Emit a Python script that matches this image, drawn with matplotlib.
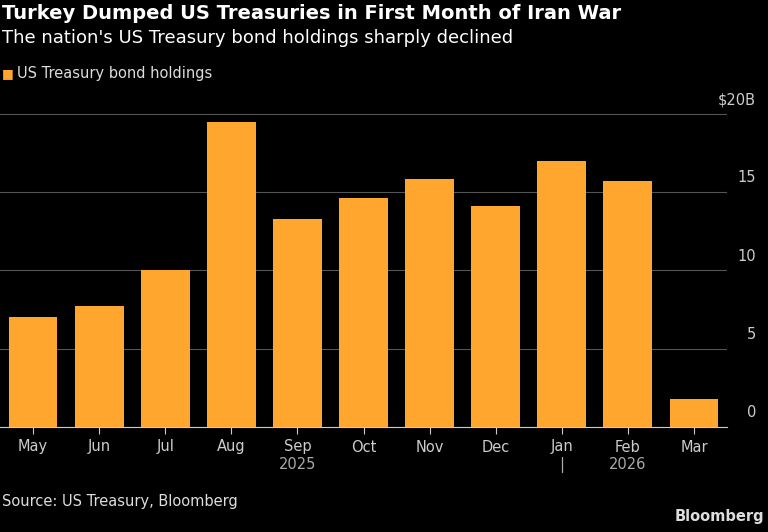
import matplotlib.pyplot as plt

months = ['May', 'Jun', 'Jul', 'Aug', 'Sep', 'Oct', 'Nov', 'Dec', 'Jan', 'Feb', 'Mar']
holdings = [7.0, 7.7, 10.0, 19.5, 13.3, 14.6, 15.8, 14.1, 17.0, 15.7, 1.8]
yticks = [0, 5, 10, 15, 20]
ylabels = ['0', '5', '10', '15', '$20B']

bg = 'black'
fig = plt.figure(figsize=(7.68, 5.32), dpi=100, facecolor=bg)
ax = fig.add_axes([0.0, (532 - 427) / 532, 727 / 768, (427 - 109) / 532], facecolor=bg)

x = range(len(months))
ax.bar(x, holdings, width=0.74, color='#FFA62F', zorder=3)
ax.set_xlim(-0.5, len(months) - 0.5)
ax.set_ylim(0, 20.3)
ax.set_yticks(yticks)
ax.set_yticklabels([])
ax.grid(axis='y', color='#555555', linewidth=0.8, zorder=0)
ax.tick_params(axis='y', length=0)
for v, lab in zip(yticks, ylabels):
    ax.text(1.0 + 29 / 727, v + 0.9, lab, transform=ax.get_yaxis_transform(),
            ha='right', va='center', color='#cccccc', fontsize=10.5)
ax.set_xticks(list(x))
ax.set_xticklabels(months)
ax.tick_params(axis='x', colors='#cccccc', labelsize=10.5, length=5, width=0.8, pad=4)
for s in ['top', 'right', 'left']:
    ax.spines[s].set_visible(False)
ax.spines['bottom'].set_color('#cccccc')

xt = ax.get_xaxis_transform()
ax.text(4, -0.095, '2025', transform=xt, ha='center', va='top', color='#aaaaaa', fontsize=10.5)
ax.text(9, -0.095, '2026', transform=xt, ha='center', va='top', color='#aaaaaa', fontsize=10.5)
ax.text(8, -0.095, '|', transform=xt, ha='center', va='top', color='#aaaaaa', fontsize=10.5)

fig.text(0.003, 0.992, 'Turkey Dumped US Treasuries in First Month of Iran War',
         color='white', fontsize=14, fontweight='bold', va='top')
fig.text(0.003, 0.945, "The nation's US Treasury bond holdings sharply declined",
         color='white', fontsize=13, va='top')
fig.text(0.003, 0.862, '\u25A0', color='#FFA62F', fontsize=9, va='center')
fig.text(0.022, 0.862, 'US Treasury bond holdings', color='#dddddd', fontsize=10.5, va='center')
fig.text(0.003, 0.058, 'Source: US Treasury, Bloomberg', color='#dddddd', fontsize=10.5, va='center')
fig.text(0.995, 0.015, 'Bloomberg', color='#dddddd', fontsize=10.5, fontweight='bold',
         ha='right', va='bottom')

fig.savefig('out.png', dpi=100, facecolor=bg)
